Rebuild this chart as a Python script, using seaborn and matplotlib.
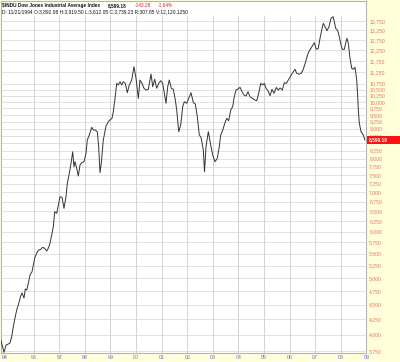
import matplotlib
matplotlib.use("Agg")
import matplotlib.pyplot as plt
from matplotlib.patches import Rectangle
import pandas as pd
import seaborn as sns

# ---------------- data ----------------
years = [
    1994.702, 1994.838, 1994.917, 1995.006, 1995.073, 1995.139, 1995.202, 1995.268, 1995.335, 1995.397,
    1995.491, 1995.542, 1995.620, 1995.671, 1995.726, 1995.804, 1995.855, 1995.933, 1995.984, 1996.039,
    1996.117, 1996.195, 1996.273, 1996.351, 1996.429, 1996.508, 1996.570, 1996.637, 1996.715, 1996.766,
    1996.820, 1996.899, 1996.977, 1997.028, 1997.106, 1997.184, 1997.262, 1997.313, 1997.391, 1997.458,
    1997.524, 1997.575, 1997.614, 1997.680, 1997.743, 1997.809, 1997.876, 1997.966, 1998.044, 1998.095,
    1998.173, 1998.267, 1998.329, 1998.408, 1998.486, 1998.540, 1998.591, 1998.642, 1998.720, 1998.826,
    1998.916, 1999.010, 1999.060, 1999.111, 1999.178, 1999.244, 1999.307, 1999.373, 1999.440, 1999.502,
    1999.580, 1999.658, 1999.737, 1999.830, 1999.920, 1999.999, 2000.089, 2000.155, 2000.233, 2000.311,
    2000.390, 2000.480, 2000.585, 2000.652, 2000.730, 2000.808, 2000.886, 2000.964, 2001.042, 2001.105,
    2001.171, 2001.238, 2001.300, 2001.379, 2001.457, 2001.535, 2001.590, 2001.668, 2001.746, 2001.824,
    2001.887, 2001.981, 2002.059, 2002.149, 2002.239, 2002.317, 2002.395, 2002.473, 2002.540, 2002.630,
    2002.677, 2002.735, 2002.825, 2002.919, 2002.997, 2003.087, 2003.177, 2003.255, 2003.310, 2003.388,
    2003.478, 2003.544, 2003.622, 2003.701, 2003.779, 2003.841, 2003.908, 2003.974, 2004.064, 2004.143,
    2004.221, 2004.299, 2004.377, 2004.455, 2004.545, 2004.639, 2004.717, 2004.795, 2004.874, 2004.952,
    2005.014, 2005.081, 2005.159, 2005.237, 2005.315, 2005.393, 2005.483, 2005.558, 2005.636, 2005.718,
    2005.796, 2005.875, 2005.953, 2006.031, 2006.109, 2006.214, 2006.281, 2006.371, 2006.449, 2006.527,
    2006.605, 2006.684, 2006.734, 2006.813, 2006.891, 2006.969, 2007.047, 2007.125, 2007.192, 2007.258,
    2007.321, 2007.387, 2007.465, 2007.543, 2007.622, 2007.700, 2007.751, 2007.806, 2007.884, 2007.946,
    2008.013, 2008.064, 2008.142, 2008.208, 2008.247, 2008.298, 2008.365, 2008.431, 2008.494, 2008.560,
    2008.627, 2008.666, 2008.689, 2008.729, 2008.795, 2008.885, 2008.951,
]
closes = [
    3932, 3731, 3840, 3855, 3870, 3968, 4127, 4271, 4407, 4495,
    4657, 4712, 4620, 4787, 4768, 4927, 5058, 5124, 5261, 5408,
    5516, 5581, 5597, 5641, 5619, 5559, 5619, 5730, 5961, 6117,
    6490, 6449, 6708, 6884, 6868, 6577, 6884, 7257, 7549, 7852,
    8219, 7747, 7901, 7699, 7469, 7799, 7870, 7901, 8167, 8607,
    8778, 9048, 8952, 8952, 8893, 8382, 7567, 7852, 8607, 9094,
    9250, 9337, 9374, 9621, 10142, 10759, 10687, 10827, 10687, 10827,
    10759, 10368, 10687, 10900, 11486, 10973, 10142, 10900, 10759, 10550,
    10479, 10508, 11161, 10616, 10930, 10550, 10759, 10870, 10759, 10344,
    9945, 10616, 10900, 10550, 10508, 10075, 9686, 8893, 9130, 9812,
    10008, 9945, 10142, 10368, 9968, 9917, 9434, 8778, 8699, 8274,
    7596, 8382, 8893, 8438, 8113, 7901, 8008, 8382, 8778, 8952,
    9213, 9374, 9286, 9686, 9812, 10206, 10479, 10508, 10591, 10409,
    10275, 10235, 10409, 10206, 10142, 10075, 10047, 10344, 10759, 10687,
    10759, 10550, 10450, 10247, 10508, 10344, 10583, 10479, 10562, 10479,
    10785, 10759, 10900, 11042, 11191, 11369, 11191, 11147, 11191, 11338,
    11609, 11947, 12137, 12300, 12461, 12624, 12300, 12349, 12845, 13271,
    13626, 13445, 13235, 13445, 13897, 13985, 13712, 13360, 13235, 12926,
    12510, 12300, 12300, 12674, 12845, 12594, 11872, 11414, 11369, 11459,
    10900, 10206, 9686, 9192, 8893, 8778, 8599.18,
]
assert len(years) == len(closes)

ytick_values = [3750, 4000, 4250, 4500, 4750, 5000, 5250, 5500, 5750, 6000,
                6250, 6500, 6750, 7000, 7250, 7500, 7750, 8000, 8250, 8500,
                8750, 9000, 9250, 9500, 9750, 10000, 10250, 10500, 10750,
                11250, 11750, 12250, 12750, 13250, 13750]
hidden_tick = 8500  # covered by the last-price marker in the reference
grid_years = [1996, 1997, 1998, 1999, 2000, 2001, 2002, 2003, 2004, 2005,
              2006, 2007, 2008]
xtick_positions = [1994.86, 1996, 1997, 1998, 1999, 2000, 2001, 2002, 2003,
                   2004, 2005, 2006, 2007, 2008, 2009]
xtick_labels = ["94", "96", "97", "98", "99", "00", "01", "02", "03", "04",
                "05", "06", "07", "08", "09"]
last_close_label = "8,599.18"
header_title = "$INDU Dow Jones Industrial Average Index"
header_close = "8,599.18"
header_chg = "-143.28"
header_pct = "-1.64%"
header_ohlc = ("D: 11/21/1994 O:3,892.98 H:3,919.50 L:3,612.05 "
               "C:3,739.23 R:307.85 V:12,120.1250")

# ---------------- figure ----------------
sns.set_theme(style="white")
plt.rcParams["font.family"] = ["Liberation Sans", "DejaVu Sans"]

W, H = 400, 362
fig = plt.figure(figsize=(W / 100, H / 100), dpi=100, facecolor="#FFFFDC")


def fx(px):
    return px / W


def fy(py):
    return 1 - py / H


ax = fig.add_axes([fx(1), fy(353), (366.5 - 1) / W, (353 - 1) / H])
ax.set_facecolor("white")

df = pd.DataFrame({"year": years, "close": closes})
sns.lineplot(data=df, x="year", y="close", ax=ax, color="#333333",
             linewidth=0.7, zorder=5)

ax.set_yscale("log")
ymin, ymax = 3721, 14877
ax.set_ylim(ymin, ymax)
ax.set_xlim(1994.721, 2009.009)

# grid
ax.hlines(ytick_values, 1994.721, 2009.009, color="#DCDCDC", linewidth=0.6,
          zorder=1)
ax.vlines(grid_years, ymin, 14079, color="#D2D2D2", linewidth=0.7, zorder=1)

for side in ["left", "right", "top", "bottom"]:
    ax.spines[side].set_visible(True)
    ax.spines[side].set_color("#B4B4B4")
    ax.spines[side].set_linewidth(0.8)

ax.minorticks_off()
ax.yaxis.tick_right()
ax.set_yticks(ytick_values)
ax.set_yticklabels(["" if v == hidden_tick else f"{v:,}" for v in ytick_values])
ax.tick_params(axis="y", length=0, pad=2.0, labelsize=3.7,
               labelcolor="#E8765E")
ax.set_xticks(xtick_positions)
ax.set_xticklabels(xtick_labels)
ax.tick_params(axis="x", length=0, pad=1.2, labelsize=3.8,
               labelcolor="#6A6AD0")
ax.set_xlabel("")
ax.set_ylabel("")
if ax.get_legend():
    ax.get_legend().remove()

# last price marker
fig.patches.append(Rectangle((fx(367), fy(143.6)), (400 - 367) / W, 7.2 / H,
                             transform=fig.transFigure, facecolor="#FF1010",
                             edgecolor="none", zorder=10))
fig.text(fx(369), fy(140.1), last_close_label, color="white", fontsize=3.5,
         fontweight="bold", ha="left", va="center", zorder=11)

# header
fig.text(fx(2), fy(5.5), header_title, fontsize=3.4, fontweight="bold",
         color="#111111", ha="left", va="center")
fig.text(fx(108), fy(5.5), header_close, fontsize=3.4, fontweight="bold",
         color="#111111", ha="left", va="center")
fig.text(fx(135), fy(5.5), header_chg, fontsize=3.4, color="#E02020",
         ha="left", va="center")
fig.text(fx(158), fy(5.5), header_pct, fontsize=3.4, color="#E02020",
         ha="left", va="center")
fig.text(fx(2), fy(12), header_ohlc, fontsize=3.5, color="#111111",
         ha="left", va="center")

fig.savefig("out.png", dpi=100, facecolor=fig.get_facecolor())
